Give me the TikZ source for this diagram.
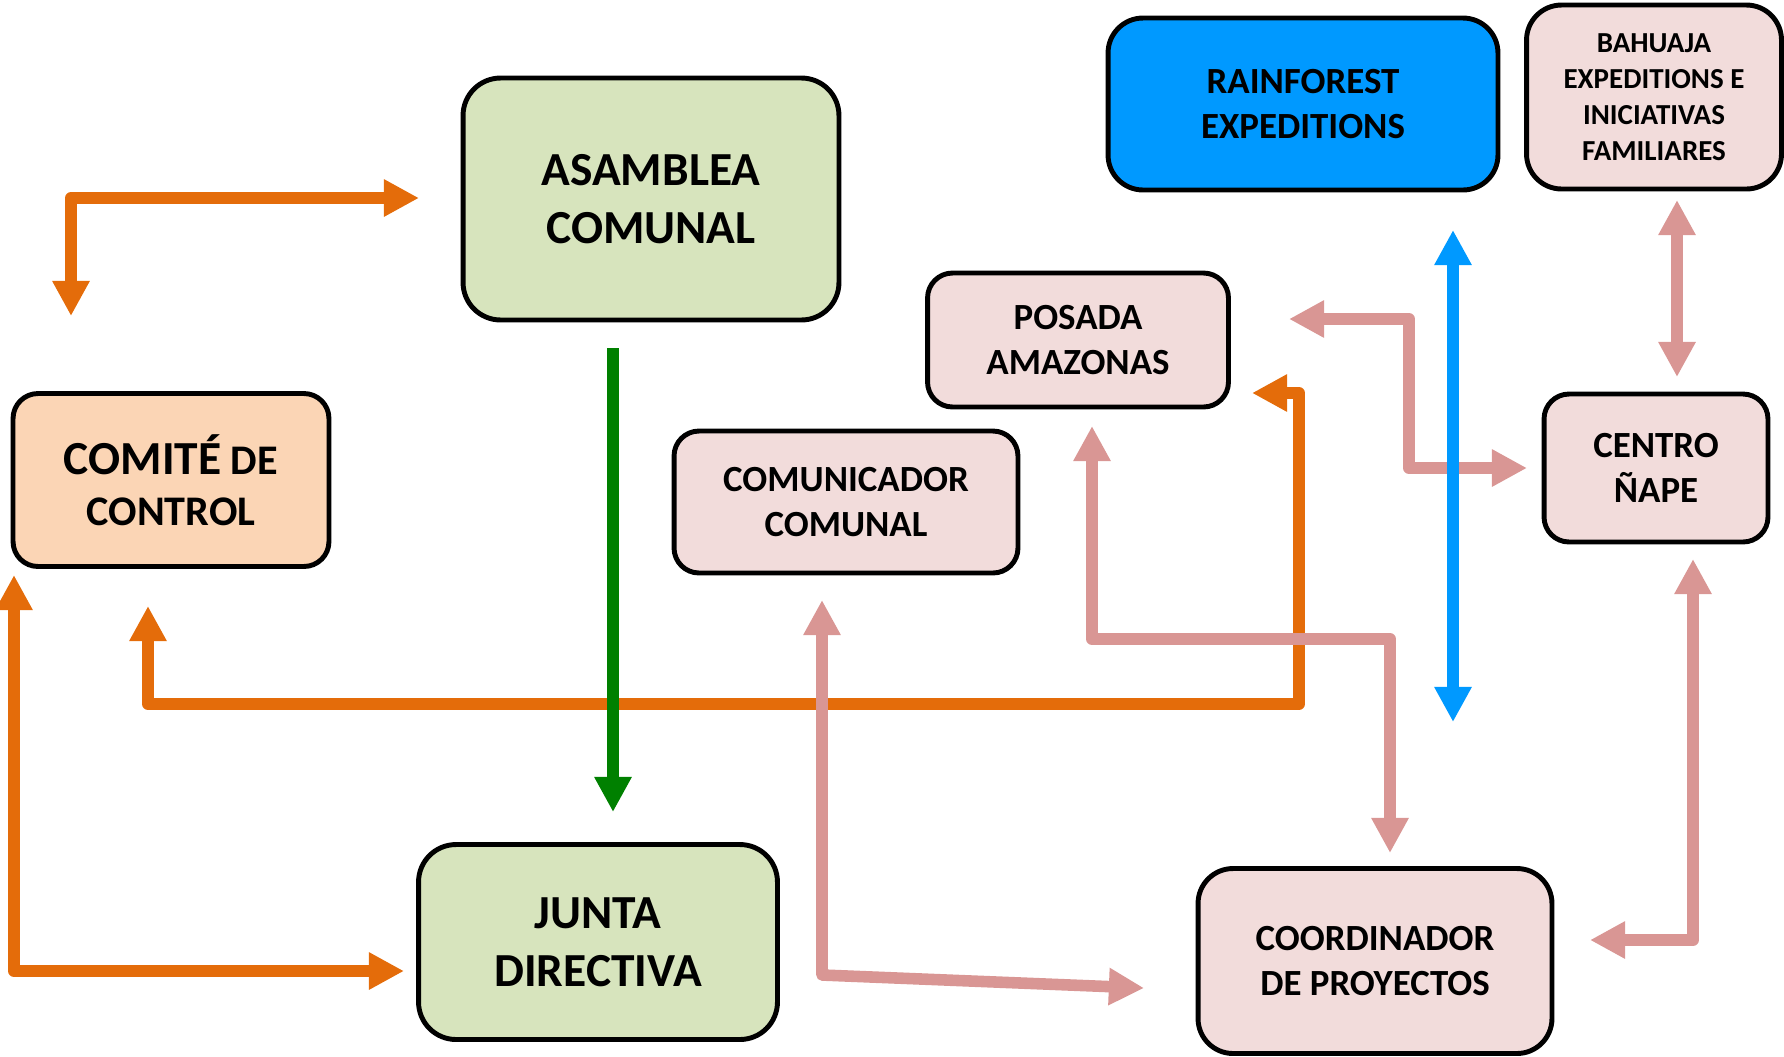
\documentclass[tikz,border=0pt]{standalone}
\usepackage{fontspec}
\setmainfont{Carlito}
\usetikzlibrary{arrows.meta}

\definecolor{boxgreen}{HTML}{D7E4BD}
\definecolor{boxorange}{HTML}{FBD5B5}
\definecolor{boxpink}{HTML}{F2DCDB}
\definecolor{boxblue}{HTML}{0099FF}
\definecolor{linkorange}{HTML}{E46C0A}
\definecolor{linkpink}{HTML}{D99694}
\definecolor{linkgreen}{HTML}{008000}

\newcommand{\bigtext}{\fontsize{27}{33}\selectfont}
\newcommand{\midtext}{\fontsize{24}{29}\selectfont}
\newcommand{\smalltext}{\fontsize{21}{26}\selectfont}
\newcommand{\tinytext}{\fontsize{16.5}{20.5}\selectfont}

\begin{document}
\begin{tikzpicture}[x=0.02cm, y=-0.02cm,
  >={Triangle[length=20pt,width=20pt]},
  box/.style={draw=black, line width=2.8pt, rounded corners=0.5cm, inner sep=0pt, align=center},
  bigbox/.style={box, rounded corners=0.75cm, font=\bfseries\bigtext},
  smallbox/.style={box, fill=boxpink, font=\bfseries\smalltext},
  link/.style={line width=6.6pt, line join=round}]
  \useasboundingbox (0,0) rectangle (1784,1056);

  % boxes
  \node[bigbox, fill=boxgreen, minimum width=7.52cm, minimum height=4.84cm] (asamblea) at (651,199) {ASAMBLEA\\COMUNAL};
  \node[bigbox, fill=boxgreen, minimum width=7.18cm, minimum height=3.9cm] (junta) at (598,942) {JUNTA\\DIRECTIVA};
  \node[box, fill=boxorange, font=\bfseries\midtext, minimum width=6.32cm, minimum height=3.46cm] (comite) at (171,480) {{\bigtext COMITÉ} DE\\CONTROL};
  \node[smallbox, minimum width=6.88cm, minimum height=2.84cm] (comunicador) at (846,502) {COMUNICADOR\\COMUNAL};
  \node[smallbox, minimum width=6.02cm, minimum height=2.68cm] (posada) at (1078,340) {POSADA\\AMAZONAS};
  \node[box, fill=boxblue, font=\bfseries\smalltext, rounded corners=0.7cm, minimum width=7.8cm, minimum height=3.44cm] (rainforest) at (1303,104) {RAINFOREST\\EXPEDITIONS};
  \node[smallbox, font=\bfseries\tinytext, rounded corners=0.7cm, minimum width=5.1cm, minimum height=3.68cm] (bahuaja) at (1654,97) {BAHUAJA\\EXPEDITIONS E\\INICIATIVAS\\FAMILIARES};
  \node[smallbox, minimum width=4.48cm, minimum height=2.96cm] (centro) at (1656,468) {CENTRO\\ÑAPE};
  \node[smallbox, rounded corners=0.7cm, minimum width=7.08cm, minimum height=3.7cm] (coordinador) at (1375,961) {COORDINADOR\\DE PROYECTOS};

  % free ends of the links
  \coordinate (o1a) at (419,198);
  \coordinate (o1b) at (71,316);
  \coordinate (o2a) at (14,575);
  \coordinate (o2b) at (404,971);
  \coordinate (o3a) at (148,606);
  \coordinate (o3k) at (1299,704);
  \coordinate (o3b) at (1252,393);
  \coordinate (g1) at (613,348);
  \coordinate (g2) at (613,812);
  \coordinate (b1) at (1453,230);
  \coordinate (b2) at (1453,722);
  \coordinate (p4a) at (822,600);
  \coordinate (p4k) at (822,975);
  \coordinate (p4b) at (1144,988);
  \coordinate (p5a) at (1092,426);
  \coordinate (p5k) at (1240,639);
  \coordinate (p5b) at (1390,853);
  \coordinate (p6a) at (1289,319);
  \coordinate (p6k) at (1409,400);
  \coordinate (p6b) at (1527,468);
  \coordinate (p7a) at (1677,200);
  \coordinate (p7b) at (1677,377);
  \coordinate (p8a) at (1693,559);
  \coordinate (p8b) at (1590,940);

  % orange links
  \draw[link, linkorange, <->] (o1a) -| (o1b);
  \draw[link, linkorange, <->] (o2a) |- (o2b);
  \draw[link, linkorange, <->] (o3a) |- (o3k) |- (o3b);

  % pink links
  \draw[link, linkpink, <->] (p4a) -- (p4k) -- (p4b);
  \draw[link, linkpink, <->] (p5a) |- (p5k) -| (p5b);
  \draw[link, linkpink, <->] (p6a) -| (p6k) |- (p6b);
  \draw[link, linkpink, <->] (p7a) -- (p7b);
  \draw[link, linkpink, <->] (p8a) |- (p8b);

  % green and blue links
  \draw[link, linkgreen, ->] (g1) -- (g2);
  \draw[link, boxblue, <->] (b1) -- (b2);
\end{tikzpicture}
\end{document}
